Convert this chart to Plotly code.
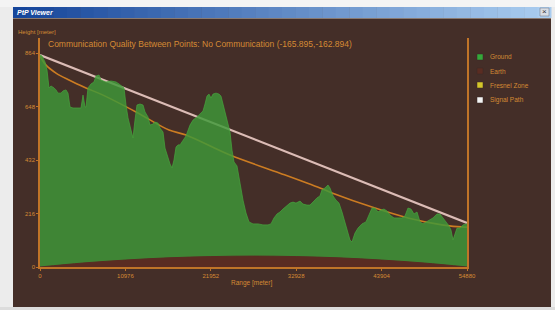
import plotly.graph_objects as go

# ---------------- data (meters) ----------------
ground_range = [0, 257, 643, 900, 1157, 1414, 1799, 2056, 2313, 2699, 2956, 3342, 3599, 3856, 4241, 4755,
                5269, 5526, 5783, 5912, 6169, 6555, 6940, 7197, 7583, 7840, 8482, 9125, 9768, 10153, 10539,
                10796, 11053, 11310, 11695, 11952, 12209, 12466, 12852, 13238, 13495, 13880, 14137, 14523,
                14780, 15165, 15422, 15808, 16065, 16451, 16708, 16965, 17222, 17479, 17736, 17993, 18378,
                18764, 19278, 19664, 20178, 20563, 20949, 21206, 21463, 21720, 21977, 22234, 22620, 23005,
                23262, 23519, 23776, 24162, 24419, 24676, 24933, 25318, 25704, 26090, 26475, 26861, 27375,
                28017, 28660, 29303, 29688, 30074, 30459, 30845, 31230, 31616, 32130, 32516, 32901, 33415,
                33801, 34315, 34700, 35086, 35600, 35986, 36243, 36628, 37014, 37271, 37656, 38042, 38427,
                38813, 39199, 39584, 39841, 40098, 40484, 40869, 41383, 41898, 42283, 42669, 43054, 43440,
                43825, 44211, 44596, 44982, 45496, 46010, 46524, 46910, 47295, 47681, 48066, 48452, 48838,
                49223, 49609, 50123, 50508, 51022, 51408, 51794, 52179, 52565, 52822, 53079, 53336, 53593,
                53978, 54364, 54880]
ground_height = [856, 852, 828, 795, 723, 731, 723, 715, 702, 702, 711, 715, 702, 646, 642, 642,
                 642, 694, 646, 646, 723, 739, 747, 771, 775, 755, 747, 751, 747, 739, 731,
                 723, 654, 602, 553, 521, 593, 654, 658, 654, 626, 606, 573, 577,
                 585, 581, 561, 545, 480, 440, 416, 400, 432, 484, 493, 493, 513,
                 529, 573, 593, 606, 618, 630, 658, 690, 698, 682, 698, 702, 698,
                 690, 658, 626, 573, 545, 472, 424, 408, 331, 270, 218, 182, 174,
                 174, 170, 170, 174, 198, 214, 222, 234, 246, 258, 262, 258, 266,
                 254, 250, 250, 262, 279, 287, 311, 319, 331, 319, 287, 270, 258,
                 222, 182, 137, 109, 101, 137, 157, 174, 182, 214, 238, 238, 222,
                 230, 234, 226, 210, 198, 198, 198, 206, 238, 234, 214, 222, 182,
                 174, 182, 190, 198, 214, 214, 198, 182, 166, 149, 109, 133, 157,
                 157, 170, 174]

earth_range = [0, 5488, 10976, 16464, 21952, 27440, 32928, 38416, 43904, 49392, 54880]
earth_height = [0, 16, 28, 37, 42, 44, 42, 37, 28, 16, 0]

fresnel_range = [0, 771, 2056, 3727, 5912, 8097, 12338, 16579, 18764, 24419, 30845, 35986,
                 37528, 43054, 47295, 51665, 54621, 54880]
fresnel_height = [852, 815, 783, 755, 723, 694, 626, 553, 533, 452, 379, 319,
                  299, 238, 198, 170, 161, 161]

signal_range = [0, 54880]
signal_height = [856, 178]

x_ticks = [0, 10976, 21952, 32928, 43904, 54880]
y_ticks = [0, 216, 432, 648, 864]

title_text = "Communication Quality Between Points: No Communication (-165.895,-162.894)"
legend_labels = ["Ground", "Earth", "Fresnel Zone", "Signal Path"]

# ---------------- styling ----------------
W, H = 555, 310
ML, MR, MT, MB = 40, 88, 38, 43
PW, PH = W - ML - MR, H - MT - MB
BG = "rgb(68,46,40)"
ORANGE = "#d48a34"
AXIS = "#c07428"
FONT = "Arial, Liberation Sans, sans-serif"


def px(x):
    return (x - ML) / PW


def py(y):
    return (H - MB - y) / PH


fig = go.Figure()
fig.add_trace(go.Scatter(x=signal_range, y=signal_height, mode="lines",
                         line=dict(color="#dcbcb6", width=2.2), showlegend=False))
fig.add_trace(go.Scatter(x=fresnel_range, y=fresnel_height, mode="lines",
                         line=dict(color="#cc7c22", width=1.6, shape="spline"), showlegend=False))
fig.add_trace(go.Scatter(x=earth_range, y=earth_height, mode="lines", fill="tozeroy",
                         fillcolor="#5a2c22", line=dict(color="#5a2c22", width=1, shape="spline"),
                         showlegend=False))
fig.add_trace(go.Scatter(x=ground_range, y=ground_height, mode="lines", fill="tonexty",
                         fillcolor="rgba(62,152,56,0.82)", line=dict(color="rgba(70,165,62,0.9)", width=0.8),
                         showlegend=False))

shapes = []
frame = "#ececec"
shapes.append(dict(type="rect", xref="paper", yref="paper", x0=px(0), x1=px(13), y0=py(310), y1=py(0),
                   fillcolor=frame, line_width=0, layer="above"))
shapes.append(dict(type="rect", xref="paper", yref="paper", x0=px(551), x1=px(555), y0=py(310), y1=py(0),
                   fillcolor=frame, line_width=0, layer="above"))
shapes.append(dict(type="rect", xref="paper", yref="paper", x0=px(0), x1=px(555), y0=py(310), y1=py(307),
                   fillcolor="#dcdcdc", line_width=0, layer="above"))
shapes.append(dict(type="rect", xref="paper", yref="paper", x0=px(0), x1=px(555), y0=py(7), y1=py(0),
                   fillcolor="#f4f4f4", line_width=0, layer="above"))
# title bar gradient
n = 40
c0 = (22, 70, 155)
c1 = (170, 205, 240)
x_start, x_end = 13, 551
for i in range(n):
    t = i / (n - 1)
    c = tuple(int(c0[k] + (c1[k] - c0[k]) * t) for k in range(3))
    xa = x_start + (x_end - x_start) * i / n
    xb = x_start + (x_end - x_start) * (i + 1) / n + 0.5
    shapes.append(dict(type="rect", xref="paper", yref="paper", x0=px(xa), x1=px(xb), y0=py(18), y1=py(7),
                       fillcolor="rgb(%d,%d,%d)" % c, line_width=0, layer="above"))
shapes.append(dict(type="rect", xref="paper", yref="paper", x0=px(13), x1=px(551), y0=py(19), y1=py(18),
                   fillcolor="#8a7a70", line_width=0, layer="above"))
shapes.append(dict(type="rect", xref="paper", yref="paper", x0=px(540), x1=px(549), y0=py(16), y1=py(8),
                   fillcolor="#d8dde4", line=dict(color="#7a8290", width=0.6), layer="above"))

sw_colors = ["#35a83a", "#5a2c22", "#d4c62a", "#f4f4f4"]
sw_y = [57, 71, 85, 100]
for col, yy in zip(sw_colors, sw_y):
    shapes.append(dict(type="rect", xref="paper", yref="paper", x0=px(477), x1=px(483),
                       y0=py(yy + 3), y1=py(yy - 3), fillcolor=col,
                       line=dict(color="#3a2a24", width=0.5), layer="above"))

annotations = []
annotations.append(dict(text="<b><i>PtP Viewer</i></b>", xref="paper", yref="paper", x=px(15), y=py(12.5),
                        xanchor="left", yanchor="middle", showarrow=False,
                        font=dict(family=FONT, size=7, color="white")))
annotations.append(dict(text="×", xref="paper", yref="paper", x=px(544.5), y=py(12), xanchor="center",
                        yanchor="middle", showarrow=False, font=dict(family=FONT, size=8, color="#333")))
annotations.append(dict(text=title_text, xref="paper", yref="paper", x=px(46), y=py(43.5),
                        xanchor="left", yanchor="middle", showarrow=False,
                        font=dict(family=FONT, size=8.5, color=ORANGE)))
annotations.append(dict(text="Height [meter]", xref="paper", yref="paper", x=px(16), y=py(32),
                        xanchor="left", yanchor="middle", showarrow=False,
                        font=dict(family=FONT, size=6, color=ORANGE)))
annotations.append(dict(text="Range [meter]", xref="paper", yref="paper", x=px(251), y=py(283),
                        xanchor="center", yanchor="middle", showarrow=False,
                        font=dict(family=FONT, size=6.5, color=ORANGE)))
for lab, yy in zip(legend_labels, sw_y):
    annotations.append(dict(text=lab, xref="paper", yref="paper", x=px(488), y=py(yy),
                            xanchor="left", yanchor="middle", showarrow=False,
                            font=dict(family=FONT, size=6.5, color=ORANGE)))

y_top = 864 * PH / (H - MB - 53)

fig.update_layout(
    width=W, height=H,
    margin=dict(l=ML, r=MR, t=MT, b=MB, pad=0),
    paper_bgcolor=BG, plot_bgcolor=BG,
    showlegend=False,
    shapes=shapes, annotations=annotations,
    xaxis=dict(range=[0, 54880], tickvals=x_ticks, ticktext=[str(v) for v in x_ticks],
               showgrid=False, zeroline=False, showline=True, linecolor=AXIS, linewidth=1.5,
               ticks="outside", ticklen=2, tickcolor=AXIS, tickwidth=1,
               tickfont=dict(family=FONT, size=6, color=ORANGE)),
    yaxis=dict(range=[0, y_top], tickvals=y_ticks, ticktext=[str(v) for v in y_ticks],
               showgrid=False, zeroline=False, showline=True, mirror=True, linecolor=AXIS, linewidth=1.5,
               ticks="outside", ticklen=2, tickcolor=AXIS, tickwidth=1,
               tickfont=dict(family=FONT, size=6, color=ORANGE)),
)

fig.write_html("out.html", config={"displayModeBar": False},
               post_script="document.body.style.margin='0';document.body.style.overflow='hidden';")
